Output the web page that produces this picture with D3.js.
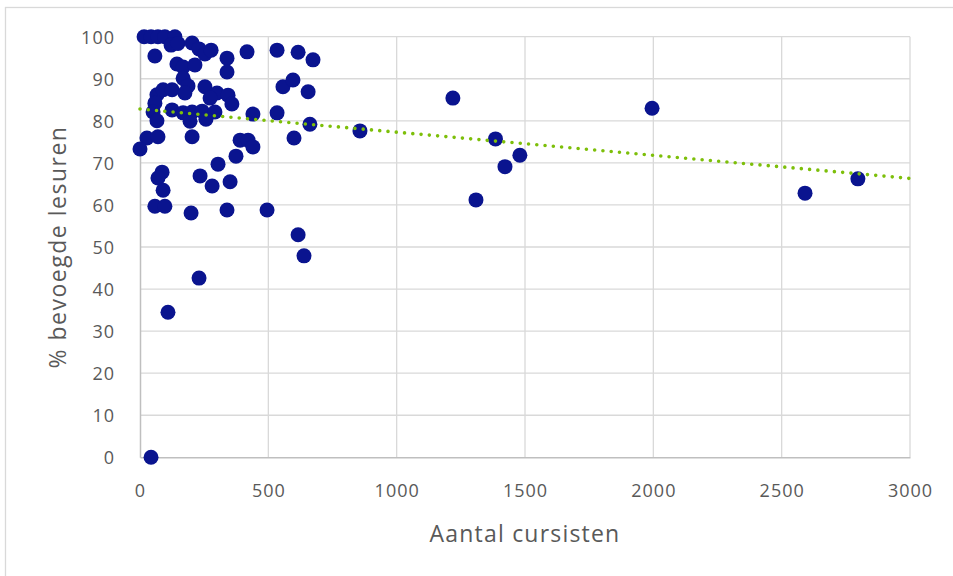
<!DOCTYPE html>
<html>
<head>
<meta charset="utf-8">
<script src="https://cdn.jsdelivr.net/npm/d3@7"></script>
<style>
  html, body { margin: 0; padding: 0; background: #fff; }
  svg { display: block; }
  text { font-family: "Open Sans", "Noto Sans", sans-serif; fill: #595959; }
</style>
</head>
<body>
<svg id="chart" width="953" height="576"></svg>
<script>
// ---- data ----
const cursisten = [
  16, 43, 70, 97, 136, 121, 148, 58,
  203, 230, 253, 277,
  339, 339, 417, 534, 616, 674,
  144, 168, 214, 168, 187,
  253, 300, 273, 343, 358,
  557, 596, 655,
  66, 90, 125, 175, 58, 51, 66,
  125, 168, 203, 242, 292, 195, 257,
  440, 534, 662, 600, 857,
  27, 70, 0, 203,
  390, 421, 440, 374, 304,
  86, 70, 234, 281, 351, 90, 58, 97, 199, 339, 495, 616, 639, 230, 109, 43,
  1219, 1995, 1385, 1480, 1422, 1309, 2591, 2797
];
const bevoegd = [
  100, 100, 100, 100, 100, 98.0, 98.4, 95.4,
  98.5, 97.1, 95.9, 96.8,
  94.9, 91.6, 96.4, 96.8, 96.3, 94.5,
  93.5, 92.8, 93.3, 90.1, 88.3,
  88.1, 86.6, 85.4, 86.1, 84.0,
  88.1, 89.7, 86.9,
  86.2, 87.4, 87.4, 86.6, 84.2, 82.1, 80.0,
  82.6, 81.9, 82.1, 82.3, 82.1, 79.9, 80.4,
  81.6, 81.9, 79.2, 75.9, 77.6,
  75.9, 76.2, 73.3, 76.2,
  75.4, 75.4, 73.8, 71.6, 69.7,
  67.8, 66.4, 66.9, 64.5, 65.5, 63.5, 59.7, 59.7, 58.1, 58.8, 58.8, 52.9, 47.9, 42.6, 34.5, 0,
  85.4, 83.0, 75.7, 71.8, 69.1, 61.2, 62.8, 66.2
];
// trendline end points as seen in the picture
const trendX = [0, 3000];
const trendY = [82.8, 66.3];

const xTicks = [0, 500, 1000, 1500, 2000, 2500, 3000];
const yTicks = [0, 10, 20, 30, 40, 50, 60, 70, 80, 90, 100];
const xTitle = "Aantal cursisten";
const yTitle = "% bevoegde lesuren";

// ---- drawing ----
const svg = d3.select("#chart");
const W = 953, H = 576;
const plot = { left: 140, right: 910, top: 36.7, bottom: 457.3 };

// chart-area border
svg.append("rect")
  .attr("x", 5.5).attr("y", 7.5)
  .attr("width", W + 10).attr("height", H + 10)
  .attr("fill", "#fff").attr("stroke", "#d9d9d9").attr("stroke-width", 1.3);

const x = d3.scaleLinear().domain([0, 3000]).range([plot.left, plot.right]);
const y = d3.scaleLinear().domain([0, 100]).range([plot.bottom, plot.top]);

// gridlines
const grid = svg.append("g");
grid.selectAll("line.h").data(yTicks.filter(d => d > 0)).join("line")
  .attr("x1", plot.left).attr("x2", plot.right)
  .attr("y1", d => y(d)).attr("y2", d => y(d))
  .attr("stroke", "#d9d9d9").attr("stroke-width", 1.3);
grid.selectAll("line.v").data(xTicks.filter(d => d > 0)).join("line")
  .attr("x1", d => x(d)).attr("x2", d => x(d))
  .attr("y1", plot.top).attr("y2", plot.bottom)
  .attr("stroke", "#d9d9d9").attr("stroke-width", 1.3);

// axes (D3 axes, restyled)
const xAxis = svg.append("g")
  .attr("transform", `translate(0,${plot.bottom})`)
  .call(d3.axisBottom(x).tickValues(xTicks).tickSize(0).tickPadding(27).tickFormat(d3.format("d")));
const yAxis = svg.append("g")
  .attr("transform", `translate(${plot.left},0)`)
  .call(d3.axisLeft(y).tickValues(yTicks).tickSize(0).tickPadding(25).tickFormat(d3.format("d")));
[xAxis, yAxis].forEach(a => {
  a.select(".domain").attr("stroke", "#bfbfbf").attr("stroke-width", 1.5);
  a.selectAll("text").style("font-size", "18px").style("fill", "#595959")
    .style("letter-spacing", "1px")
    .style("font-family", '"Open Sans", "Noto Sans", sans-serif');
});
yAxis.selectAll(".tick text").attr("dy", "0.35em");

// axis titles
svg.append("text")
  .attr("x", (plot.left + plot.right) / 2).attr("y", 542)
  .attr("text-anchor", "middle")
  .style("font-size", "23px")
  .style("letter-spacing", "1.2px")
  .text(xTitle);
svg.append("text")
  .attr("transform", `translate(66,${(plot.top + plot.bottom) / 2}) rotate(-90)`)
  .attr("text-anchor", "middle")
  .style("font-size", "23px")
  .style("letter-spacing", "1.5px")
  .text(yTitle);

// points
const pts = cursisten.map((d, i) => ({ x: d, y: bevoegd[i] }));
svg.append("g").selectAll("circle").data(pts).join("circle")
  .attr("cx", d => x(d.x)).attr("cy", d => y(d.y))
  .attr("r", 7.5)
  .attr("fill", "#0a148f");

// trendline (dotted), drawn over the points
const trend = trendX.map((d, i) => ({ x: d, y: trendY[i] }));
svg.append("path")
  .datum(trend)
  .attr("d", d3.line().x(d => x(d.x)).y(d => y(d.y)))
  .attr("fill", "none")
  .attr("stroke", "#7dbf0a")
  .attr("stroke-width", 3.6)
  .attr("stroke-linecap", "round")
  .attr("stroke-dasharray", "0 8.3");
</script>
</body>
</html>
